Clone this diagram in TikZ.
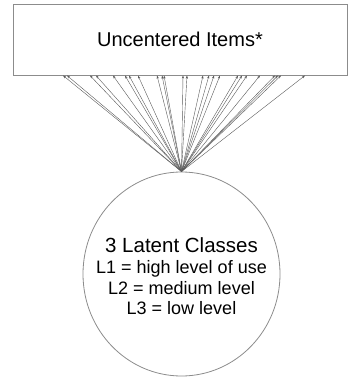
\documentclass[tikz,border=0pt]{standalone}
\usepackage{fontspec}
\setmainfont{Liberation Sans}
\usetikzlibrary{arrows.meta,shapes.geometric}
\tikzset{
  itembox/.style={draw=black!45, line width=0.9pt, rectangle, minimum width=334pt, minimum height=71pt, inner sep=0pt, font=\fontsize{20}{24}\selectfont},
  classnode/.style={draw=black!45, line width=0.8pt, ellipse, minimum width=197pt, minimum height=204pt, inner sep=0pt},
  classtext/.style={inner sep=0pt, align=center, font=\fontsize{18}{20.5}\selectfont},
  arr/.style={draw=black!65, line width=0.4pt, -{Stealth[length=3.2pt,width=2.2pt]}},
}
\begin{document}
\begin{tikzpicture}[x=1pt,y=-1pt]
\useasboundingbox (0,0) rectangle (348,379);
\node[itembox] (items) at (180,39.5) {\raisebox{-1pt}{Uncentered Items*}};
\node[classnode] (cls) at (181.5,274) {};
\node[classtext] (clstext) at ([yshift=-2pt]cls.center) {{\fontsize{20.5}{22}\selectfont 3 Latent Classes}\\[1pt]L1 = high level of use\\L2 = medium level\\L3 = low level};
\foreach \x [count=\i] in {63,67,90,96,113,125,129,138,157,162,164,183,187,203,209,214,220,238,242,247,260,275,278,281,305} {
  \coordinate (t\i) at (\x,75.5);
  \draw[arr] (cls.north) -- (t\i);
}
\end{tikzpicture}
\end{document}
